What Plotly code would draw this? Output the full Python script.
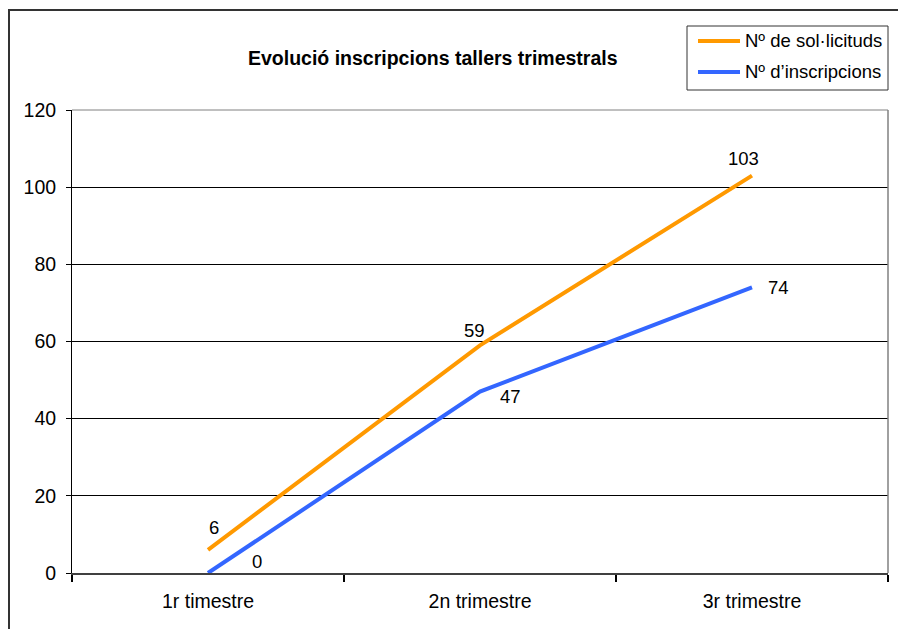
import plotly.graph_objects as go

categories = ["1r timestre", "2n trimestre", "3r trimestre"]
series_names = ["Nº de sol·licituds", "Nº d’inscripcions"]
solicituds = [6, 59, 103]
inscripcions = [0, 47, 74]
title_text = "Evolució inscripcions tallers trimestrals"

colors = ["#FF9900", "#3366FF"]
FONT = "Liberation Sans, Arial, sans-serif"

W, H = 906, 629
OFF = 8  # page body margin offset
# target screen positions of plot area
SX0, SX1, SY0, SY1 = 72, 888, 110, 573
L, T = SX0 - OFF, SY0 - OFF
R, B = W - (SX1 - OFF), H - (SY1 - OFF)
PW, PH = SX1 - SX0, SY1 - SY0


def px2x(px):
    return (px - SX0) / PW


def px2y(py):
    return (SY1 - py) / PH


fig = go.Figure()
for name, vals, col in zip(series_names, [solicituds, inscripcions], colors):
    fig.add_trace(go.Scatter(x=categories, y=vals, mode="lines", name=name,
                             line=dict(color=col, width=4), showlegend=False,
                             hoverinfo="skip"))

# data labels
label_shifts = [
    [(6, 22), (-6, 15), (-9, 17)],
    [(49, 12), (30, -5), (26, 0)],
]
annotations = []
for vals, shifts in zip([solicituds, inscripcions], label_shifts):
    for c, v, (dx, dy) in zip(categories, vals, shifts):
        annotations.append(dict(x=c, y=v, text=str(v), showarrow=False,
                                xshift=dx, yshift=dy,
                                font=dict(family=FONT, size=18.5, color="black")))

# title
annotations.append(dict(text="<b>" + title_text + "</b>", xref="paper", yref="paper",
                        x=px2x(433), y=px2y(58), xanchor="center", yanchor="middle",
                        showarrow=False, font=dict(family=FONT, size=19.5, color="black")))

shapes = []
# outer border
shapes.append(dict(type="rect", xref="paper", yref="paper", x0=px2x(9), x1=px2x(990),
                   y0=px2y(720), y1=px2y(10), line=dict(color="#333333", width=2),
                   layer="above"))
# plot area top & right borders (gray)
shapes.append(dict(type="line", xref="paper", yref="paper", x0=0, x1=1, y0=1, y1=1,
                   line=dict(color="#808080", width=1), layer="above"))
shapes.append(dict(type="line", xref="paper", yref="paper", x0=1, x1=1, y0=0, y1=1,
                   line=dict(color="#808080", width=1.5), layer="above"))
# legend box
shapes.append(dict(type="rect", xref="paper", yref="paper", x0=px2x(687), x1=px2x(888),
                   y0=px2y(90), y1=px2y(26), line=dict(color="#333333", width=1),
                   fillcolor="white", layer="above"))
legend_rows = [41, 72]
for name, col, ry in zip(series_names, colors, legend_rows):
    shapes.append(dict(type="line", xref="paper", yref="paper", x0=px2x(698), x1=px2x(740),
                       y0=px2y(ry), y1=px2y(ry), line=dict(color=col, width=4),
                       layer="above"))
    annotations.append(dict(text=name, xref="paper", yref="paper", x=px2x(743), y=px2y(ry),
                            xanchor="left", yanchor="middle", showarrow=False,
                            font=dict(family=FONT, size=18.5, color="black")))

fig.update_layout(
    width=W, height=H,
    margin=dict(l=L, r=R, t=T, b=B, pad=0),
    paper_bgcolor="white", plot_bgcolor="white",
    font=dict(family=FONT, size=19.5, color="black"),
    annotations=annotations, shapes=shapes,
    xaxis=dict(type="category", range=[-0.5, 2.5], tickson="boundaries",
               ticks="outside", ticklen=7, tickwidth=1.5, tickcolor="black",
               ticklabelstandoff=10,
               showline=True, linecolor="#404040", linewidth=2,
               showgrid=False, zeroline=False, fixedrange=True,
               tickfont=dict(family=FONT, size=19.5, color="black")),
    yaxis=dict(range=[0, 120], dtick=20, ticks="outside", ticklen=5,
               tickcolor="black", showline=True, linecolor="black", linewidth=1,
               ticklabelstandoff=6,
               showgrid=True, gridcolor="black", gridwidth=1, zeroline=False,
               fixedrange=True, tickfont=dict(family=FONT, size=19.5, color="black")),
)

fig.write_html("out.html")
